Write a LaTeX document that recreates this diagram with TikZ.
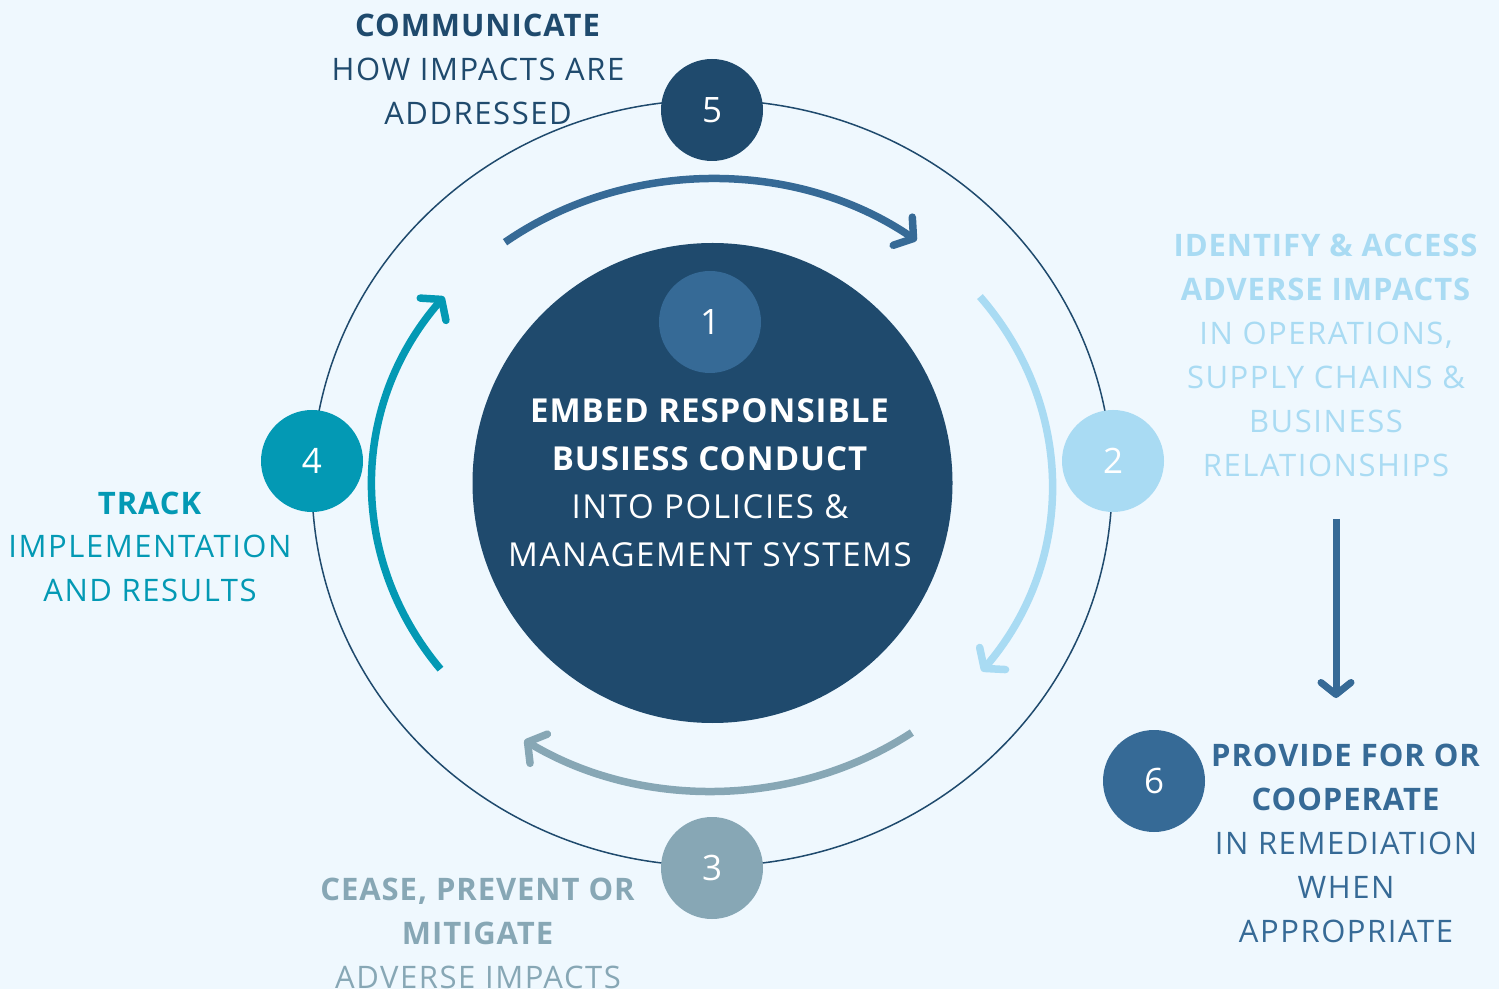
\documentclass[tikz,border=0pt]{standalone}
\usepackage{fontspec}
\setmainfont{Open Sans}[LetterSpace=5, BoldFeatures={LetterSpace=3}]
\usetikzlibrary{arrows.meta}

\definecolor{bgc}{HTML}{EFF8FE}
\definecolor{navy}{HTML}{1F4A6D}
\definecolor{midblue}{HTML}{366A96}
\definecolor{skyblue}{HTML}{A9DBF3}
\definecolor{slate}{HTML}{87A7B5}
\definecolor{teal}{HTML}{0399B4}

\tikzset{
  num/.style={circle, minimum size=102pt, inner sep=0pt, text=white,
    font=\fontsize{35}{35}\selectfont},
  lbl/.style={align=center, anchor=base, font=\fontsize{31}{44}\selectfont},
  cyc/.style={line width=7.5pt,
    -{Straight Barb[length=13pt, width=34pt, round]}},
}

\begin{document}
\begin{tikzpicture}[x=1pt, y=1pt]
  \useasboundingbox[fill=bgc] (0,0) rectangle (1499,989);

  % outer cycle ring
  \coordinate (hub) at (712,506);
  \draw[navy, line width=1.5pt] (hub) ellipse [x radius=400, y radius=383];

  % central disc and step 1
  \node[circle, fill=navy, minimum size=480pt, inner sep=0pt] (core) at (712.5,506) {};
  \node[num, fill=midblue] (n1) at (710,667) {1};
  \node[align=center, anchor=base, text=white, font=\fontsize{33}{48}\selectfont]
    (tcore) at (710,422)
    {\textbf{EMBED RESPONSIBLE}\\\textbf{BUSIESS CONDUCT}\\INTO POLICIES \&\\MANAGEMENT SYSTEMS};

  % step markers on the ring
  \node[num, fill=navy]    (n5) at (712,879) {5};
  \node[num, fill=skyblue] (n2) at (1113,528) {2};
  \node[num, fill=slate]   (n3) at (712,121) {3};
  \node[num, fill=teal]    (n4) at (312,528) {4};
  \node[num, fill=midblue] (n6) at (1154,208) {6};

  % curved cycle arrows
  \coordinate (arcs) at (712,504);
  \draw[cyc, midblue] (arcs) ++(127.5:340 and 306)
    arc[start angle=127.5, end angle=53, x radius=340, y radius=306];
  \draw[cyc, skyblue] (arcs) ++(38:340 and 306)
    arc[start angle=38, end angle=-37.5, x radius=340, y radius=306];
  \draw[cyc, slate] (arcs) ++(-54:340 and 306)
    arc[start angle=-54, end angle=-123.5, x radius=340, y radius=306];
  \draw[cyc, teal] (arcs) ++(217:340 and 306)
    arc[start angle=217, end angle=142, x radius=340, y radius=306];

  % arrow towards remediation
  \coordinate (dtop) at (1336,470);
  \coordinate (dbot) at (1336,291);
  \draw[midblue, line width=7pt,
    -{Straight Barb[length=12pt, width=30pt, round]}] (dtop) -- (dbot);

  % step descriptions (anchored at the baseline of the last line)
  \node[lbl, text=navy] (t5) at (478,864)
    {\textbf{COMMUNICATE}\\HOW IMPACTS ARE\\ADDRESSED};
  \node[lbl, text=skyblue] (t2) at (1326,512)
    {\textbf{IDENTIFY \& ACCESS}\\\textbf{ADVERSE IMPACTS}\\IN OPERATIONS,\\SUPPLY CHAINS \&\\BUSINESS\\RELATIONSHIPS};
  \node[lbl, text=teal] (t4) at (150,387)
    {\textbf{TRACK}\\IMPLEMENTATION\\AND RESULTS};
  \node[lbl, text=slate] (t3) at (478,1)
    {\textbf{CEASE, PREVENT OR}\\\textbf{MITIGATE}\\ADVERSE IMPACTS};
  \node[lbl, text=midblue] (t6) at (1346,47)
    {\textbf{PROVIDE FOR OR}\\\textbf{COOPERATE}\\IN REMEDIATION\\WHEN\\APPROPRIATE};
\end{tikzpicture}
\end{document}
